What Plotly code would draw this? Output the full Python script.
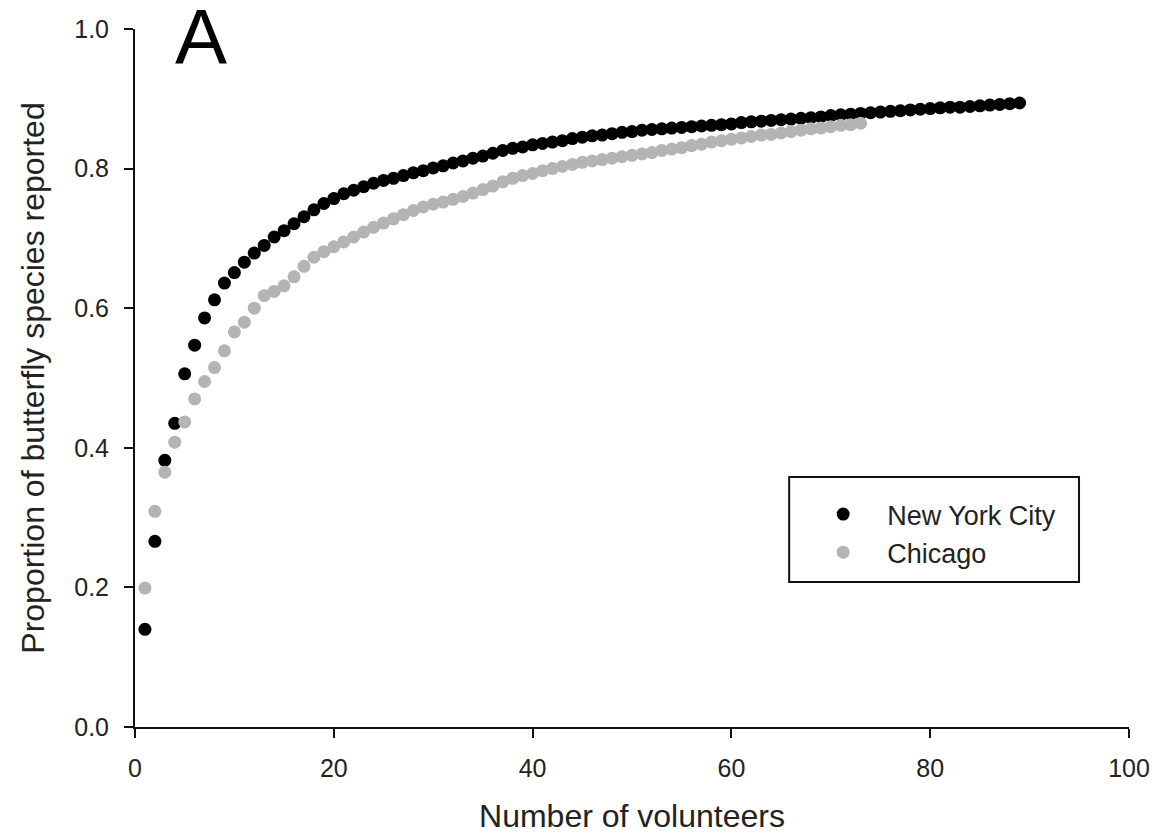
import plotly.graph_objects as go

# Cumulative proportion of butterfly species reported vs. number of volunteers
nyc_volunteers = list(range(1, 90))
nyc_proportion = [
    0.140, 0.266, 0.382, 0.435, 0.506, 0.547, 0.586, 0.612, 0.636, 0.651,
    0.666, 0.679, 0.690, 0.702, 0.711, 0.721, 0.731, 0.741, 0.750, 0.757,
    0.764, 0.769, 0.774, 0.779, 0.783, 0.786, 0.790, 0.794, 0.797, 0.801,
    0.804, 0.808, 0.811, 0.815, 0.818, 0.822, 0.826, 0.829, 0.831, 0.834,
    0.836, 0.838, 0.840, 0.843, 0.845, 0.847, 0.848, 0.850, 0.852, 0.853,
    0.855, 0.856, 0.857, 0.858, 0.859, 0.860, 0.861, 0.862, 0.863, 0.864,
    0.866, 0.867, 0.868, 0.869, 0.870, 0.871, 0.872, 0.873, 0.874, 0.876,
    0.877, 0.878, 0.879, 0.880, 0.881, 0.882, 0.883, 0.884, 0.885, 0.886,
    0.887, 0.888, 0.888, 0.889, 0.890, 0.891, 0.892, 0.893, 0.894,
]

chicago_volunteers = list(range(1, 74))
chicago_proportion = [
    0.199, 0.309, 0.365, 0.408, 0.437, 0.470, 0.495, 0.515, 0.539, 0.566,
    0.580, 0.600, 0.618, 0.624, 0.632, 0.645, 0.660, 0.673, 0.681, 0.688,
    0.695, 0.702, 0.709, 0.716, 0.722, 0.728, 0.734, 0.740, 0.745, 0.749,
    0.752, 0.756, 0.760, 0.765, 0.770, 0.775, 0.781, 0.786, 0.790, 0.793,
    0.797, 0.800, 0.803, 0.806, 0.809, 0.811, 0.813, 0.815, 0.817, 0.819,
    0.821, 0.823, 0.826, 0.828, 0.830, 0.833, 0.835, 0.838, 0.840, 0.842,
    0.844, 0.846, 0.848, 0.849, 0.851, 0.853, 0.855, 0.857, 0.858, 0.860,
    0.862, 0.863, 0.865,
]

x_ticks = [0, 20, 40, 60, 80, 100]
y_ticks = [0.0, 0.2, 0.4, 0.6, 0.8, 1.0]
y_tick_labels = ["0.0", "0.2", "0.4", "0.6", "0.8", "1.0"]

FONT = "Arial, Liberation Sans, sans-serif"
TEXT_COLOR = "#222222"

fig = go.Figure()
fig.add_trace(go.Scatter(
    x=nyc_volunteers, y=nyc_proportion, mode="markers", name="New York City",
    marker=dict(color="#000000", size=13, line=dict(width=0)),
))
fig.add_trace(go.Scatter(
    x=chicago_volunteers, y=chicago_proportion, mode="markers", name="Chicago",
    marker=dict(color="#b4b4b4", size=13, line=dict(width=0)),
))

axis_common = dict(
    showline=True, linecolor="#111111", linewidth=2,
    ticks="outside", ticklen=9, tickwidth=2, tickcolor="#111111",
    showgrid=False, zeroline=False, automargin=False,
    tickfont=dict(family=FONT, size=25, color=TEXT_COLOR),
)

fig.update_xaxes(
    range=[0, 100], tickvals=x_ticks,
    ticklabelstandoff=9,
    title=dict(text="Number of volunteers", standoff=24,
               font=dict(family=FONT, size=32, color=TEXT_COLOR)),
    **axis_common,
)
fig.update_yaxes(
    range=[0, 1], tickvals=y_ticks, ticktext=y_tick_labels,
    ticklabelstandoff=10,
    title=dict(text="Proportion of butterfly species reported", standoff=20,
               font=dict(family=FONT, size=32, color=TEXT_COLOR)),
    **axis_common,
)

# legend frame
fig.add_shape(type="rect", xref="paper", yref="paper",
              x0=(789 - 134.5) / 994.5, x1=(1079 - 134.5) / 994.5,
              y0=(727 - 582) / 698, y1=(727 - 477) / 698,
              line=dict(color="#111111", width=2), fillcolor="rgba(0,0,0,0)")

# panel letter
fig.add_annotation(text="A", xref="paper", yref="paper",
                   x=(201 - 134.5) / 994.5, y=(727 + 8) / 698, showarrow=False,
                   xanchor="center", yanchor="top", borderpad=0,
                   font=dict(family=FONT, size=78, color="#000000"))

fig.update_layout(
    width=1159, height=840,
    margin=dict(l=134.5, r=30, t=29, b=113),
    paper_bgcolor="white", plot_bgcolor="white",
    showlegend=True,
    legend=dict(
        x=(799 - 134.5) / 994.5, y=(727 - 490) / 698,
        xanchor="left", yanchor="top",
        bgcolor="rgba(0,0,0,0)", borderwidth=0,
        font=dict(family=FONT, size=27, color=TEXT_COLOR),
        itemwidth=78,
    ),
)

fig.write_html("out.html")
